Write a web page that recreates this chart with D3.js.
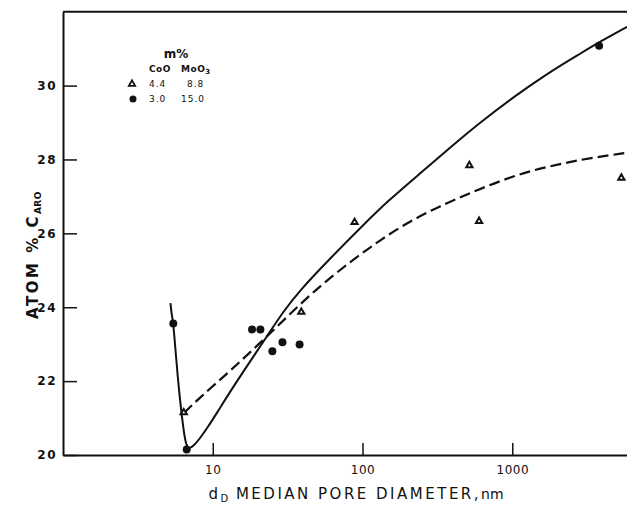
<!DOCTYPE html>
<html>
<head>
<meta charset="utf-8">
<script src="https://cdn.jsdelivr.net/npm/d3@7/dist/d3.min.js"></script>
<style>
  html, body { margin: 0; padding: 0; background: #fff; }
  svg { display: block; }
  text { font-family: "DejaVu Sans", sans-serif; fill: #111; }
</style>
</head>
<body>
<svg id="chart" width="627" height="506"></svg>
<script>
// ---- data ----
const xTicks = [10, 100, 1000];
const yTicks = [20, 22, 24, 26, 28, 30];

// 3.0 % CoO / 15.0 % MoO3 (filled circles)
const circleX = [5.45, 6.7, 18.3, 20.8, 25.0, 29.2, 38.0, 3800];
const circleY = [23.56, 20.15, 23.40, 23.40, 22.81, 23.05, 22.99, 31.08];

// 4.4 % CoO / 8.8 % MoO3 (open triangles)
const triX = [6.4, 39.0, 88.5, 517, 600, 5350];
const triY = [21.15, 23.87, 26.30, 27.84, 26.33, 27.50];

// solid curve (circles series)
const solidX = [5.22, 5.30, 5.45, 5.64, 5.82, 6.09, 6.38, 6.63, 6.94, 7.42, 8.22, 9.29, 10.62, 13.72, 17.73, 22.92, 29.4, 38.2, 60.7, 100.7, 148, 242, 384, 609, 1011, 1706, 2833, 3853, 5834];
const solidY = [24.11, 23.84, 23.57, 22.84, 22.17, 21.35, 20.68, 20.27, 20.16, 20.24, 20.45, 20.76, 21.13, 21.85, 22.53, 23.20, 23.87, 24.46, 25.32, 26.22, 26.88, 27.62, 28.32, 29.00, 29.68, 30.32, 30.86, 31.19, 31.59];

// dashed curve (triangles series)
const dashX = [6.44, 8.22, 13.04, 20.68, 32.8, 52.0, 82.5, 130.8, 207.6, 329, 522, 828, 1313, 2083, 3304, 5834];
const dashY = [21.14, 21.56, 22.27, 23.03, 23.82, 24.58, 25.22, 25.82, 26.33, 26.74, 27.09, 27.42, 27.69, 27.88, 28.04, 28.18];

// ---- chart ----
const svg = d3.select("#chart");
const mLeft = 63, mRight = 627, mTop = 11.7, mBottom = 455;

const x = d3.scaleLog().domain([1, Math.pow(10, 3.766)]).range([mLeft, mRight]);
const y = d3.scaleLinear().domain([20, 32]).range([mBottom, mTop]);

// top border
svg.append("line")
  .attr("x1", mLeft).attr("x2", mRight)
  .attr("y1", mTop).attr("y2", mTop)
  .attr("stroke", "#111").attr("stroke-width", 2);

// left axis
const yAxis = svg.append("g")
  .attr("transform", `translate(${mLeft},0)`)
  .call(d3.axisLeft(y).tickValues(yTicks).tickSize(-14).tickSizeOuter(0).tickPadding(6).tickFormat(d3.format("d")));
yAxis.select(".domain").attr("stroke", "#111").attr("stroke-width", 2);
yAxis.selectAll(".tick line").attr("stroke", "#111").attr("stroke-width", 1.5);
yAxis.selectAll(".tick text")
  .style("font-family", "DejaVu Sans, sans-serif")
  .style("font-size", "12px").style("font-weight", "bold").style("letter-spacing", "1.5px")
  .attr("fill", "#111");

// bottom axis
const xAxis = svg.append("g")
  .attr("transform", `translate(0,${mBottom})`)
  .call(d3.axisBottom(x).tickValues(xTicks).tickSize(-12).tickSizeOuter(0).tickPadding(10).tickFormat(d3.format("d")));
xAxis.select(".domain").attr("stroke", "#111").attr("stroke-width", 2);
xAxis.selectAll(".tick line").attr("stroke", "#111").attr("stroke-width", 1.5);
xAxis.selectAll(".tick text")
  .style("font-family", "DejaVu Sans, sans-serif")
  .style("font-size", "12px").style("letter-spacing", "0.5px")
  .attr("fill", "#111");

// curves
const line = d3.line()
  .x(d => x(d[0])).y(d => y(d[1]))
  .curve(d3.curveBasis);

svg.append("path")
  .datum(d3.zip(solidX, solidY))
  .attr("d", line)
  .attr("fill", "none").attr("stroke", "#111").attr("stroke-width", 2);

svg.append("path")
  .datum(d3.zip(dashX, dashY))
  .attr("d", line)
  .attr("fill", "none").attr("stroke", "#111").attr("stroke-width", 2.2)
  .attr("stroke-dasharray", "11,5");

// points
svg.append("g").selectAll("circle")
  .data(d3.zip(circleX, circleY))
  .join("circle")
  .attr("cx", d => x(d[0])).attr("cy", d => y(d[1]))
  .attr("r", 4).attr("fill", "#111");

const tri = d3.symbol().type(d3.symbolTriangle).size(17);
svg.append("g").selectAll("path")
  .data(d3.zip(triX, triY))
  .join("path")
  .attr("d", tri)
  .attr("transform", d => `translate(${x(d[0])},${y(d[1])})`)
  .attr("fill", "#fff").attr("stroke", "#111").attr("stroke-width", 2);

// axis titles
const yt = svg.append("text")
  .attr("transform", "translate(38,255) rotate(-90)")
  .attr("text-anchor", "middle")
  .style("font-size", "15px").style("font-weight", "bold").style("letter-spacing", "2.5px");
yt.append("tspan").text("ATOM % C");
yt.append("tspan").attr("dy", 3).style("font-size", "9px").style("letter-spacing", "0.5px").text("ARO");

const xt = svg.append("text")
  .attr("x", 356).attr("y", 499)
  .attr("text-anchor", "middle")
  .style("font-size", "15px").style("letter-spacing", "2.5px");
xt.append("tspan").text("d");
xt.append("tspan").attr("dy", 3).style("font-size", "10px").style("letter-spacing", "0.5px").text("D");
xt.append("tspan").attr("dy", -3).text(" MEDIAN  PORE  DIAMETER,");
xt.append("tspan").style("letter-spacing", "0px").style("font-size", "14px").text("nm");

// legend
const lg = svg.append("g");
lg.append("text").attr("x", 176).attr("y", 58).attr("text-anchor", "middle")
  .style("font-size", "12px").style("font-weight", "bold").text("m%");
lg.append("text").attr("x", 149).attr("y", 72).style("font-size", "9px").style("font-weight", "bold").style("letter-spacing", "0.5px").text("CoO");
const mo = lg.append("text").attr("x", 181).attr("y", 72).style("font-size", "9px").style("font-weight", "bold").style("letter-spacing", "0.5px");
mo.append("tspan").text("MoO");
mo.append("tspan").attr("dy", 2).style("font-size", "7px").text("3");
lg.append("path").attr("d", tri).attr("transform", "translate(132,84)")
  .attr("fill", "#fff").attr("stroke", "#111").attr("stroke-width", 1.8);
lg.append("circle").attr("cx", 133).attr("cy", 99).attr("r", 3.5).attr("fill", "#111");
lg.append("text").attr("x", 149).attr("y", 87).style("font-size", "9px").style("letter-spacing", "1px").text("4.4");
lg.append("text").attr("x", 187).attr("y", 87).style("font-size", "9px").style("letter-spacing", "1px").text("8.8");
lg.append("text").attr("x", 149).attr("y", 102).style("font-size", "9px").style("letter-spacing", "1px").text("3.0");
lg.append("text").attr("x", 181).attr("y", 102).style("font-size", "9px").style("letter-spacing", "1px").text("15.0");
</script>
</body>
</html>
